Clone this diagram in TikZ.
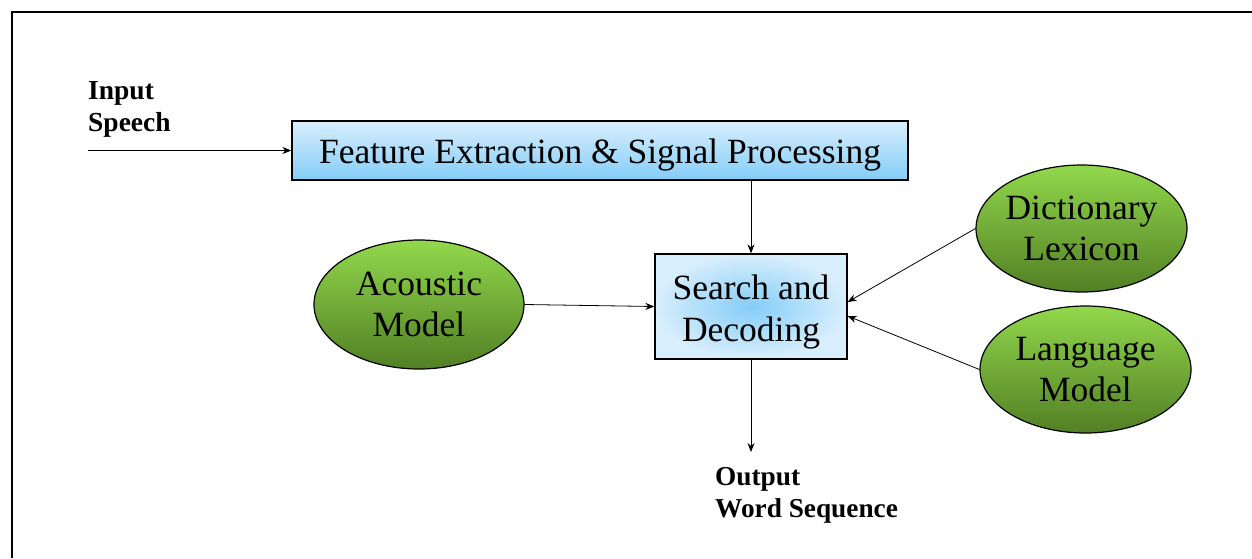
\documentclass[tikz,border=0pt]{standalone}
\usepackage{fontspec}
\setmainfont{Liberation Serif}
\usetikzlibrary{shapes.geometric,arrows.meta}
\definecolor{bluetop}{HTML}{D8EEFC}
\definecolor{bluebot}{HTML}{84CDF8}
\definecolor{greentop}{HTML}{92D84C}
\definecolor{greenbot}{HTML}{527F24}
\tikzset{
  arr/.style={draw=black, line width=0.8pt, -{Stealth[length=9pt,width=7pt]}},
  febox/.style={draw=black, line width=1.3pt, rectangle, top color=bluetop, bottom color=bluebot, inner sep=0pt, text height=25pt, text depth=0pt, font=\fontsize{35.5}{40}\selectfont},
  sdbox/.style={draw=black, line width=1.3pt, rectangle, shading=radial, inner color=bluebot, outer color=bluetop, inner sep=0pt, align=center, font=\fontsize{35.5}{42}\selectfont},
  model/.style={draw=black, line width=1.2pt, ellipse, top color=greentop, bottom color=greenbot, inner sep=-6pt, align=center, font=\fontsize{35.5}{41}\selectfont},
  lbl/.style={inner sep=0pt, align=left, font=\fontsize{27.5}{32}\selectfont\bfseries},
}
\begin{document}
\begin{tikzpicture}[x=1pt,y=-1pt]
\useasboundingbox (0,0) rectangle (1252,558);
\fill[white] (0,0) rectangle (1252,558);
\draw[line width=2pt] (12,558) -- (12,12) -- (1252,12);

\node[lbl, anchor=north west] (inp) at (88,81) {Input\\Speech};
\coordinate (inS) at (88,150.5);

\node[febox, minimum width=616pt, minimum height=59pt] (fe) at (600,150.5) {Feature Extraction \& Signal Processing};
\node[sdbox, minimum width=192pt, minimum height=105pt] (sd) at (751,306.5) {\rule{0pt}{36.5pt}Search and\\Decoding};
\node[model, minimum width=210pt, minimum height=129pt] (am) at (419,304.5) {Acoustic\\Model};
\node[model, minimum width=211pt, minimum height=127pt] (dl) at (1081.5,228.5) {Dictionary\\Lexicon};
\node[model, minimum width=211pt, minimum height=127pt] (lm) at (1085.5,369.5) {Language\\Model};

\coordinate (outE) at (751,452);
\node[lbl, anchor=north west, font=\fontsize{27.3}{32}\selectfont\bfseries] (outp) at (715,467) {Output\\Word Sequence};

\draw[arr] (inS) -- (fe.west);
\draw[arr] (fe.south -| sd.north) -- (sd.north);
\draw[arr] (am.east) -- (sd.west);
\draw[arr] (dl.west) -- ([yshift=4.5pt]sd.east);
\draw[arr] (lm.west) -- ([yshift=-9.5pt]sd.east);
\draw[arr] (sd.south) -- (outE);
\end{tikzpicture}
\end{document}
